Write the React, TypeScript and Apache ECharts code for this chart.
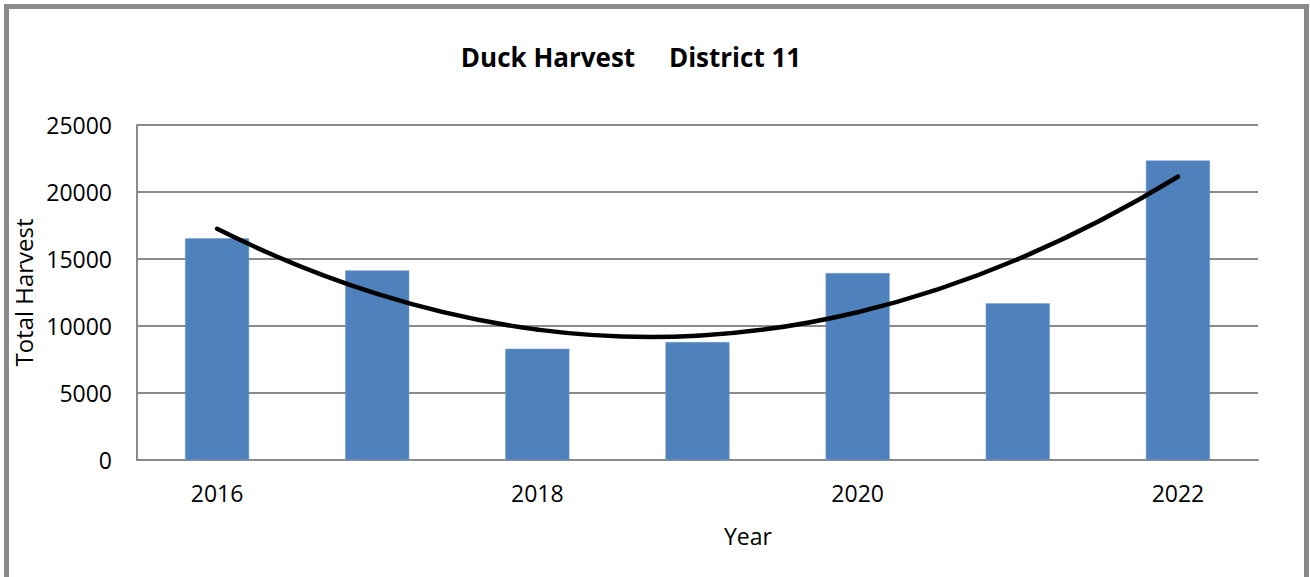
import React, { useEffect, useRef } from "react";
import * as echarts from "echarts";

const years = ["2016", "2017", "2018", "2019", "2020", "2021", "2022"];
const harvest = [16550, 14150, 8300, 8800, 13950, 11700, 22350];
// polynomial (order 2) trendline values read at each year
const trend = [17250, 12390, 9730, 9280, 11030, 14980, 21140];
const yTicks = { min: 0, max: 25000, interval: 5000 };
const titleText = "Duck Harvest     District 11";
const xName = "Year";
const yName = "Total Harvest";

export default function App() {
  const ref = useRef<HTMLDivElement>(null);
  useEffect(() => {
    if (!ref.current) return;
    const chart = echarts.init(ref.current, null, { renderer: "svg" });
    const font = "'Open Sans', 'Noto Sans', sans-serif";
    const n = trend.length;

    const renderTrend = (params: any, api: any) => {
      const i = params.dataIndex;
      if (i >= n - 1) return null;
      const P = trend.map((v, k) => api.coord([k, v]));
      const deriv = (k: number) => {
        if (k === 0)
          return [
            (-3 * P[0][0] + 4 * P[1][0] - P[2][0]) / 2,
            (-3 * P[0][1] + 4 * P[1][1] - P[2][1]) / 2,
          ];
        if (k === n - 1)
          return [
            (3 * P[n - 1][0] - 4 * P[n - 2][0] + P[n - 3][0]) / 2,
            (3 * P[n - 1][1] - 4 * P[n - 2][1] + P[n - 3][1]) / 2,
          ];
        return [(P[k + 1][0] - P[k - 1][0]) / 2, (P[k + 1][1] - P[k - 1][1]) / 2];
      };
      const d0 = deriv(i);
      const d1 = deriv(i + 1);
      return {
        type: "bezierCurve",
        shape: {
          x1: P[i][0],
          y1: P[i][1],
          x2: P[i + 1][0],
          y2: P[i + 1][1],
          cpx1: P[i][0] + d0[0] / 3,
          cpy1: P[i][1] + d0[1] / 3,
          cpx2: P[i + 1][0] - d1[0] / 3,
          cpy2: P[i + 1][1] - d1[1] / 3,
        },
        style: { stroke: "#000", lineWidth: 4.5, fill: "none", lineCap: "round" },
      };
    };

    chart.setOption({
      animation: false,
      backgroundColor: "#ffffff",
      textStyle: { fontFamily: font, color: "#000" },
      title: {
        text: titleText,
        left: 626,
        top: 39,
        textAlign: "center",
        textStyle: { fontFamily: font, fontSize: 26, fontWeight: "bold", color: "#000" },
      },
      graphic: [
        {
          type: "rect",
          shape: { x: 6.5, y: 6.5, width: 1300, height: 580 },
          style: { fill: "none", stroke: "#8a8a8a", lineWidth: 5 },
          silent: true,
        },
        {
          type: "text",
          x: 748,
          y: 536,
          style: {
            text: xName,
            fontFamily: font,
            fontSize: 23,
            fill: "#000",
            align: "center",
            verticalAlign: "middle",
          },
          silent: true,
        },
      ],
      grid: { left: 137, right: 52, top: 125, bottom: 117 },
      xAxis: {
        type: "category",
        data: years,
        axisLine: { show: true, lineStyle: { color: "#8a8a8a", width: 2 } },
        axisTick: { show: false },
        axisLabel: { interval: 1, margin: 21, fontFamily: font, fontSize: 23, color: "#000" },
      },
      yAxis: {
        type: "value",
        min: yTicks.min,
        max: yTicks.max,
        interval: yTicks.interval,
        name: yName,
        nameLocation: "middle",
        nameRotate: 90,
        nameGap: 84,
        nameTextStyle: { fontFamily: font, fontSize: 24, color: "#000" },
        axisLine: { show: true, lineStyle: { color: "#8a8a8a", width: 2 } },
        axisTick: { show: false },
        axisLabel: {
          margin: 25,
          fontFamily: font,
          fontSize: 23,
          color: "#000",
          formatter: (v: number) => String(v),
        },
        splitLine: { show: true, lineStyle: { color: "#8a8a8a", width: 2 } },
      },
      series: [
        {
          type: "bar",
          data: harvest,
          barWidth: "40%",
          itemStyle: { color: "#4F81BD", borderColor: "#6f9bd0", borderWidth: 0.5 },
          z: 2,
        },
        {
          type: "custom",
          data: trend.map((v, k) => [k, v]),
          renderItem: renderTrend,
          z: 3,
          silent: true,
        },
      ],
    });
    return () => chart.dispose();
  }, []);
  return (
    <div
      ref={ref}
      style={{ position: "absolute", left: 0, top: 0, width: 1310, height: 577 }}
    />
  );
}
